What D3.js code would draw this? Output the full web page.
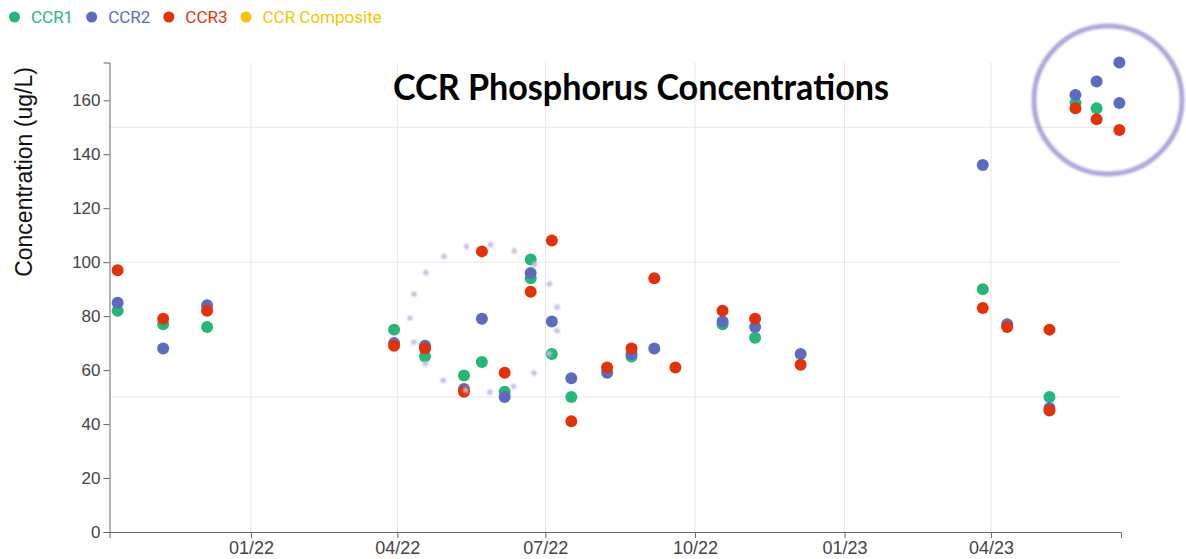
<!DOCTYPE html>
<html>
<head>
<meta charset="utf-8">
<script src="https://cdn.jsdelivr.net/npm/d3@7"></script>
<style>
  body { margin: 0; background: #fff; }
  svg { display: block; font-family: "Liberation Sans", Arial, sans-serif; }
  .axis path, .axis line { stroke: #666; }
  .axis text { fill: #444; }
  .grid line { stroke: #e6e6e6; }
</style>
</head>
<body>
<div id="chart"></div>
<script>
const width = 1186;
const height = 559;
const margin = { top: 62.5, right: 65, bottom: 27, left: 109.5 };

// sample dates (duplicates = two samples read on the same day)
const sampleDates = [
  "2021-10-11", "2021-11-08", "2021-12-05", "2022-03-30", "2022-04-18",
  "2022-05-12", "2022-05-23", "2022-06-06", "2022-06-22", "2022-06-22",
  "2022-07-05", "2022-07-17", "2022-08-08", "2022-08-23", "2022-09-06",
  "2022-09-19", "2022-10-18", "2022-11-07", "2022-12-05", "2023-03-27",
  "2023-04-11", "2023-05-07", "2023-05-07", "2023-05-23", "2023-06-05",
  "2023-06-19", "2023-06-19"
];

const ccr1 = [82, 77, 76, 75, 65, 58, 63, 52, 101, 94, 66, 50, null, 65, null,
  null, 77, 72, null, 90, null, 50, null, 159, 157, null, null];
const ccr2 = [85, 68, 84, 70, 69, 53, 79, 50, 96, null, 78, 57, 59, 66, 68,
  null, 78, 76, 66, 136, 77, 46, null, 162, 167, 174, 159];
const ccr3 = [97, 79, 82, 69, 68, 52, 104, 59, 89, null, 108, 41, 61, 68, 94,
  61, 82, 79, 62, 83, 76, 45, 75, 157, 153, 149, null];
const ccrComposite = [];

const seriesNames = ["CCR1", "CCR2", "CCR3", "CCR Composite"];
const seriesColors = ["#26b678", "#5c6bc0", "#e2320a", "#f5c400"];
const seriesValues = [ccr1, ccr2, ccr3, ccrComposite];

const xDomain = ["2021-10-06", "2023-06-20"];
const yGridValues = [50, 100, 150];

const parseDate = d3.timeParse("%Y-%m-%d");

const svg = d3
  .select("#chart")
  .append("svg")
  .attr("width", width)
  .attr("height", height);

const x = d3
  .scaleTime()
  .domain(xDomain.map(parseDate))
  .range([margin.left, width - margin.right]);

const allValues = [].concat(ccr1, ccr2, ccr3).filter((v) => v != null);
const y = d3
  .scaleLinear()
  .domain([0, d3.max(allValues)])
  .range([height - margin.bottom, margin.top]);

const xTicks = x.ticks(d3.timeMonth.every(3));

// grid
svg
  .append("g")
  .attr("class", "grid")
  .selectAll("line.v")
  .data(xTicks)
  .enter()
  .append("line")
  .attr("x1", (d) => x(d))
  .attr("x2", (d) => x(d))
  .attr("y1", margin.top)
  .attr("y2", height - margin.bottom);

svg
  .append("g")
  .attr("class", "grid")
  .selectAll("line.h")
  .data(yGridValues)
  .enter()
  .append("line")
  .attr("x1", margin.left)
  .attr("x2", width - margin.right)
  .attr("y1", (d) => y(d))
  .attr("y2", (d) => y(d));

// axes
svg
  .append("g")
  .attr("class", "axis")
  .attr("transform", `translate(0,${height - margin.bottom})`)
  .call(d3.axisBottom(x).tickValues(xTicks).tickFormat(d3.timeFormat("%m/%y")))
  .call((g) => g.selectAll("text").style("font-size", "18px"));

svg
  .append("g")
  .attr("class", "axis")
  .attr("transform", `translate(${margin.left},0)`)
  .call(d3.axisLeft(y).tickValues(d3.range(0, 161, 20)))
  .call((g) => g.selectAll("text").style("font-size", "17px"));

svg
  .append("text")
  .attr("transform", "translate(32,172) rotate(-90)")
  .attr("text-anchor", "middle")
  .style("font-size", "23px")
  .attr("fill", "#111")
  .text("Concentration (ug/L)");

// points
seriesValues.forEach((vals, i) => {
  const pts = vals
    .map((v, j) => ({ date: parseDate(sampleDates[j]), value: v }))
    .filter((d) => d.value != null);
  svg
    .append("g")
    .selectAll("circle")
    .data(pts)
    .enter()
    .append("circle")
    .attr("cx", (d) => x(d.date))
    .attr("cy", (d) => y(d.value))
    .attr("r", 6)
    .attr("fill", seriesColors[i]);
});

// annotations: dotted ring around the mid-2022 cluster, solid ring on the last samples
const blur = svg.append("defs").append("filter").attr("id", "soft");
blur.append("feGaussianBlur").attr("stdDeviation", 0.8);

const dotR = 74;
const period = (2 * Math.PI * dotR) / 19;
svg
  .append("circle")
  .attr("cx", 484)
  .attr("cy", 318.5)
  .attr("r", dotR)
  .attr("fill", "none")
  .attr("stroke", "#c2b8e4")
  .attr("stroke-width", 5)
  .attr("stroke-dasharray", `4.5 ${period - 4.5}`)
  .attr("stroke-dashoffset", -(period / 2 - 2.25))
  .attr("filter", "url(#soft)");

svg
  .append("circle")
  .attr("cx", 1108)
  .attr("cy", 100)
  .attr("r", 74)
  .attr("fill", "none")
  .attr("stroke", "#b3a6da")
  .attr("stroke-width", 5)
  .attr("filter", "url(#soft)");

// title
svg
  .append("text")
  .attr("x", 641)
  .attr("y", 100)
  .attr("text-anchor", "middle")
  .attr("textLength", 496)
  .attr("lengthAdjust", "spacingAndGlyphs")
  .style("font-family", "Lato, 'Open Sans', sans-serif")
  .style("font-weight", "bold")
  .style("font-size", "37px")
  .attr("fill", "#000")
  .text("CCR Phosphorus Concentrations");

// legend
const legend = svg.append("g").attr("transform", "translate(9,0)");
let cursor = 0;
seriesNames.forEach((name, i) => {
  legend
    .append("circle")
    .attr("cx", cursor + 5.5)
    .attr("cy", 17)
    .attr("r", 5.5)
    .attr("fill", seriesColors[i]);
  const t = legend
    .append("text")
    .attr("x", cursor + 22)
    .attr("y", 23)
    .style("font-family", "Roboto, sans-serif")
    .style("font-size", "17px")
    .attr("fill", seriesColors[i])
    .text(name);
  cursor += 22 + t.node().getComputedTextLength() + 13;
});
</script>
</body>
</html>
